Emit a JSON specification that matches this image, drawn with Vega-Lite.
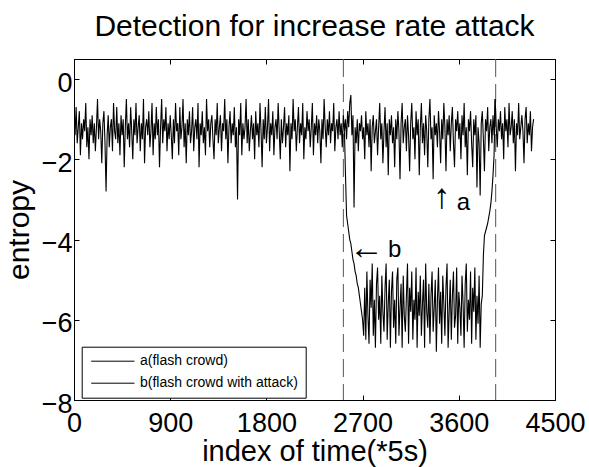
{
"$schema":"https://vega.github.io/schema/vega-lite/v6.json",
"width":481,"height":341,
"autosize":{"type":"none"},
"padding":{"left":74,"top":59,"right":34,"bottom":67},
"background":"white",
"title":{"text":"Detection for increase rate attack","fontSize":30,"font":"Liberation Sans","fontWeight":"normal","color":"black","anchor":"middle","offset":17},
"config":{"view":{"stroke":"black","strokeWidth":1},
"axis":{"labelFont":"Liberation Sans","titleFont":"Liberation Sans","labelColor":"black","titleColor":"black","domainColor":"black","tickColor":"black","grid":false,"titleFontWeight":"normal","labelFlush":false,"labelOverlap":false}},
"datasets":{
"main":[
{"t":0,"a":-0.6},{"t":10,"a":-1.4},{"t":20,"a":-0.7},{"t":30,"a":-1.6},{"t":40,"a":-1.2},{"t":50,"a":-0.8},{"t":60,"a":-1.9},{"t":70,"a":-1.1},{"t":80,"a":-1.5},{"t":90,"a":-1.0},
{"t":100,"a":-1.3},{"t":110,"a":-0.6},{"t":120,"a":-1.7},{"t":130,"a":-1.2},{"t":140,"a":-2.0},{"t":150,"a":-1.0},{"t":160,"a":-1.4},{"t":170,"a":-0.9},{"t":180,"a":-1.6},{"t":190,"a":-1.1},
{"t":200,"a":-1.8},{"t":210,"a":-1.2},{"t":220,"a":-0.5},{"t":230,"a":-1.5},{"t":240,"a":-1.0},{"t":250,"a":-1.3},{"t":260,"a":-2.1},{"t":270,"a":-1.1},{"t":280,"a":-0.8},{"t":290,"a":-1.6},
{"t":300,"a":-2.8},{"t":310,"a":-1.4},{"t":320,"a":-0.9},{"t":330,"a":-1.7},{"t":340,"a":-1.2},{"t":350,"a":-1.0},{"t":360,"a":-1.8},{"t":370,"a":-0.6},{"t":380,"a":-1.3},{"t":390,"a":-1.5},
{"t":400,"a":-0.7},{"t":410,"a":-1.6},{"t":420,"a":-1.1},{"t":430,"a":-1.9},{"t":440,"a":-0.9},{"t":450,"a":-1.4},{"t":460,"a":-1.0},{"t":470,"a":-2.2},{"t":480,"a":-1.2},{"t":490,"a":-0.5},
{"t":500,"a":-1.5},{"t":510,"a":-1.1},{"t":520,"a":-1.7},{"t":530,"a":-0.7},{"t":540,"a":-1.3},{"t":550,"a":-2.0},{"t":560,"a":-1.0},{"t":570,"a":-1.4},{"t":580,"a":-0.6},{"t":590,"a":-1.6},
{"t":600,"a":-1.2},{"t":610,"a":-0.9},{"t":620,"a":-1.8},{"t":630,"a":-1.1},{"t":640,"a":-1.5},{"t":650,"a":-0.5},{"t":660,"a":-2.1},{"t":670,"a":-1.2},{"t":680,"a":-1.0},{"t":690,"a":-1.4},
{"t":700,"a":-0.8},{"t":710,"a":-1.7},{"t":720,"a":-1.3},{"t":730,"a":-0.6},{"t":740,"a":-1.9},{"t":750,"a":-1.1},{"t":760,"a":-1.5},{"t":770,"a":-0.7},{"t":780,"a":-1.4},{"t":790,"a":-1.0},
{"t":800,"a":-2.2},{"t":810,"a":-1.2},{"t":820,"a":-0.5},{"t":830,"a":-1.6},{"t":840,"a":-1.0},{"t":850,"a":-1.3},{"t":860,"a":-0.7},{"t":870,"a":-1.8},{"t":880,"a":-1.1},{"t":890,"a":-1.5},
{"t":900,"a":-0.9},{"t":910,"a":-1.4},{"t":920,"a":-2.0},{"t":930,"a":-1.0},{"t":940,"a":-1.6},{"t":950,"a":-0.6},{"t":960,"a":-1.3},{"t":970,"a":-1.1},{"t":980,"a":-1.9},{"t":990,"a":-0.7},
{"t":1000,"a":-1.5},{"t":1010,"a":-1.2},{"t":1020,"a":-0.5},{"t":1030,"a":-1.7},{"t":1040,"a":-1.1},{"t":1050,"a":-2.1},{"t":1060,"a":-1.0},{"t":1070,"a":-1.4},{"t":1080,"a":-0.8},{"t":1090,"a":-1.6},
{"t":1100,"a":-1.3},{"t":1110,"a":-0.7},{"t":1120,"a":-1.8},{"t":1130,"a":-1.2},{"t":1140,"a":-1.0},{"t":1150,"a":-1.5},{"t":1160,"a":-0.6},{"t":1170,"a":-2.2},{"t":1180,"a":-1.1},{"t":1190,"a":-1.4},
{"t":1200,"a":-0.8},{"t":1210,"a":-1.6},{"t":1220,"a":-1.2},{"t":1230,"a":-1.9},{"t":1240,"a":-0.5},{"t":1250,"a":-1.3},{"t":1260,"a":-1.0},{"t":1270,"a":-1.7},{"t":1280,"a":-1.1},{"t":1290,"a":-0.9},
{"t":1300,"a":-1.5},{"t":1310,"a":-2.0},{"t":1320,"a":-1.0},{"t":1330,"a":-1.4},{"t":1340,"a":-0.6},{"t":1350,"a":-1.6},{"t":1360,"a":-1.2},{"t":1370,"a":-0.9},{"t":1380,"a":-1.8},{"t":1390,"a":-1.1},
{"t":1400,"a":-1.3},{"t":1410,"a":-0.5},{"t":1420,"a":-1.5},{"t":1430,"a":-1.0},{"t":1440,"a":-2.1},{"t":1450,"a":-1.2},{"t":1460,"a":-0.8},{"t":1470,"a":-1.6},{"t":1480,"a":-1.1},{"t":1490,"a":-1.4},
{"t":1500,"a":-0.7},{"t":1510,"a":-1.7},{"t":1520,"a":-1.2},{"t":1530,"a":-3.0},{"t":1540,"a":-1.0},{"t":1550,"a":-1.4},{"t":1560,"a":-0.6},{"t":1570,"a":-1.9},{"t":1580,"a":-1.1},{"t":1590,"a":-1.5},
{"t":1600,"a":-1.2},{"t":1610,"a":-0.5},{"t":1620,"a":-1.6},{"t":1630,"a":-1.0},{"t":1640,"a":-1.8},{"t":1650,"a":-1.3},{"t":1660,"a":-0.9},{"t":1670,"a":-1.5},{"t":1680,"a":-1.1},{"t":1690,"a":-2.0},
{"t":1700,"a":-0.8},{"t":1710,"a":-1.4},{"t":1720,"a":-1.1},{"t":1730,"a":-1.7},{"t":1740,"a":-0.6},{"t":1750,"a":-1.3},{"t":1760,"a":-2.2},{"t":1770,"a":-1.0},{"t":1780,"a":-1.5},{"t":1790,"a":-0.7},
{"t":1800,"a":-1.6},{"t":1810,"a":-1.2},{"t":1820,"a":-0.5},{"t":1830,"a":-1.8},{"t":1840,"a":-1.1},{"t":1850,"a":-1.4},{"t":1860,"a":-0.8},{"t":1870,"a":-1.9},{"t":1880,"a":-1.2},{"t":1890,"a":-1.0},
{"t":1900,"a":-1.5},{"t":1910,"a":-0.6},{"t":1920,"a":-1.3},{"t":1930,"a":-2.0},{"t":1940,"a":-1.0},{"t":1950,"a":-1.6},{"t":1960,"a":-1.2},{"t":1970,"a":-0.7},{"t":1980,"a":-1.7},{"t":1990,"a":-1.1},
{"t":2000,"a":-1.4},{"t":2010,"a":-0.9},{"t":2020,"a":-2.3},{"t":2030,"a":-1.1},{"t":2040,"a":-1.5},{"t":2050,"a":-0.5},{"t":2060,"a":-1.3},{"t":2070,"a":-1.0},{"t":2080,"a":-1.8},{"t":2090,"a":-1.2},
{"t":2100,"a":-0.7},{"t":2110,"a":-1.6},{"t":2120,"a":-1.1},{"t":2130,"a":-1.4},{"t":2140,"a":-0.6},{"t":2150,"a":-2.0},{"t":2160,"a":-1.2},{"t":2170,"a":-1.5},{"t":2180,"a":-0.8},{"t":2190,"a":-1.3},
{"t":2200,"a":-1.0},{"t":2210,"a":-1.7},{"t":2220,"a":-1.2},{"t":2230,"a":-0.6},{"t":2240,"a":-1.9},{"t":2250,"a":-1.1},{"t":2260,"a":-1.4},{"t":2270,"a":-0.9},{"t":2280,"a":-1.6},{"t":2290,"a":-1.0},
{"t":2300,"a":-1.3},{"t":2310,"a":-2.1},{"t":2320,"a":-1.0},{"t":2330,"a":-1.5},{"t":2340,"a":-0.5},{"t":2350,"a":-1.2},{"t":2360,"a":-1.7},{"t":2370,"a":-1.0},{"t":2380,"a":-1.4},{"t":2390,"a":-0.8},
{"t":2400,"a":-1.6},{"t":2410,"a":-1.1},{"t":2420,"a":-1.3},{"t":2430,"a":-0.6},{"t":2440,"a":-1.8},{"t":2450,"a":-1.2},{"t":2460,"a":-1.0},{"t":2470,"a":-1.5},{"t":2480,"a":-0.8},{"t":2490,"a":-1.4},
{"t":2500,"a":-1.1},{"t":2510,"a":-1.7},{"t":2520,"a":-0.9},{"t":2530,"a":-1.3,"b":-1.3},{"t":2540,"a":-1.0,"b":-2.4},{"t":2550,"a":-1.5,"b":-3.4},{"t":2560,"a":-0.8,"b":-3.6},{"t":2570,"a":-1.2,"b":-3.8},{"t":2580,"a":-0.6,"b":-4.0},{"t":2590,"a":-0.4,"b":-4.1},
{"t":2600,"a":-1.4,"b":-4.3},{"t":2610,"a":-0.9,"b":-4.5},{"t":2620,"a":-3.2,"b":-4.6},{"t":2630,"a":-1.2,"b":-4.8},{"t":2640,"a":-1.6,"b":-4.9},{"t":2650,"a":-1.0,"b":-5.1},{"t":2660,"a":-1.8,"b":-5.2},{"t":2670,"a":-1.1,"b":-5.4},{"t":2680,"a":-1.3,"b":-5.6},{"t":2690,"a":-0.9,"b":-5.8},
{"t":2700,"a":-1.5,"b":-6.0},{"t":2710,"a":-1.2,"b":-6.4},{"t":2720,"a":-2.0,"b":-5.2},{"t":2730,"a":-0.8,"b":-6.5},{"t":2740,"a":-1.4,"b":-4.8},{"t":2750,"a":-1.1,"b":-5.9},{"t":2760,"a":-1.7,"b":-6.6},{"t":2770,"a":-1.0,"b":-5.0},{"t":2780,"a":-2.3,"b":-5.7},{"t":2790,"a":-1.2,"b":-4.6},
{"t":2800,"a":-0.9,"b":-6.4},{"t":2810,"a":-1.6,"b":-5.5},{"t":2820,"a":-1.3,"b":-6.7},{"t":2830,"a":-1.0,"b":-5.1},{"t":2840,"a":-1.9,"b":-4.7},{"t":2850,"a":-1.2,"b":-6.0},{"t":2860,"a":-0.6,"b":-5.4},{"t":2870,"a":-1.5,"b":-6.6},{"t":2880,"a":-1.1,"b":-4.9},{"t":2890,"a":-2.1,"b":-5.8},
{"t":2900,"a":-1.3,"b":-6.3},{"t":2910,"a":-0.7,"b":-5.2},{"t":2920,"a":-1.7,"b":-4.6},{"t":2930,"a":-1.1,"b":-6.5},{"t":2940,"a":-2.4,"b":-5.6},{"t":2950,"a":-1.0,"b":-5.0},{"t":2960,"a":-1.4,"b":-6.7},{"t":2970,"a":-0.9,"b":-5.3},{"t":2980,"a":-1.6,"b":-4.8},{"t":2990,"a":-1.2,"b":-6.2},
{"t":3000,"a":-2.2,"b":-5.5},{"t":3010,"a":-1.0,"b":-6.6},{"t":3020,"a":-1.5,"b":-5.0},{"t":3030,"a":-0.8,"b":-4.7},{"t":3040,"a":-1.3,"b":-6.4},{"t":3050,"a":-2.5,"b":-5.7},{"t":3060,"a":-1.1,"b":-5.1},{"t":3070,"a":-0.6,"b":-6.7},{"t":3080,"a":-1.6,"b":-4.9},{"t":3090,"a":-1.2,"b":-5.9},
{"t":3100,"a":-1.0,"b":-6.3},{"t":3110,"a":-1.8,"b":-5.4},{"t":3120,"a":-0.9,"b":-4.6},{"t":3130,"a":-1.4,"b":-6.6},{"t":3140,"a":-2.3,"b":-5.2},{"t":3150,"a":-1.1,"b":-5.8},{"t":3160,"a":-0.6,"b":-4.8},{"t":3170,"a":-1.5,"b":-6.5},{"t":3180,"a":-1.2,"b":-5.5},{"t":3190,"a":-2.0,"b":-6.0},
{"t":3200,"a":-0.8,"b":-4.7},{"t":3210,"a":-1.4,"b":-6.7},{"t":3220,"a":-1.0,"b":-5.3},{"t":3230,"a":-2.4,"b":-5.9},{"t":3240,"a":-1.2,"b":-4.9},{"t":3250,"a":-0.6,"b":-6.4},{"t":3260,"a":-1.6,"b":-5.6},{"t":3270,"a":-1.1,"b":-5.0},{"t":3280,"a":-1.9,"b":-6.7},{"t":3290,"a":-0.9,"b":-4.6},
{"t":3300,"a":-1.3,"b":-5.8},{"t":3310,"a":-2.2,"b":-6.2},{"t":3320,"a":-1.0,"b":-5.1},{"t":3330,"a":-0.5,"b":-6.6},{"t":3340,"a":-1.5,"b":-5.4},{"t":3350,"a":-1.2,"b":-4.8},{"t":3360,"a":-2.5,"b":-6.3},{"t":3370,"a":-0.9,"b":-5.7},{"t":3380,"a":-1.4,"b":-5.0},{"t":3390,"a":-1.1,"b":-6.8},
{"t":3400,"a":-1.7,"b":-5.5},{"t":3410,"a":-0.8,"b":-4.7},{"t":3420,"a":-1.3,"b":-6.1},{"t":3430,"a":-2.1,"b":-5.3},{"t":3440,"a":-1.0,"b":-6.6},{"t":3450,"a":-1.5,"b":-4.9},{"t":3460,"a":-0.6,"b":-5.6},{"t":3470,"a":-1.2,"b":-6.4},{"t":3480,"a":-2.3,"b":-5.2},{"t":3490,"a":-1.0,"b":-4.6},
{"t":3500,"a":-1.4,"b":-6.7},{"t":3510,"a":-0.9,"b":-5.8},{"t":3520,"a":-1.8,"b":-5.0},{"t":3530,"a":-1.1,"b":-6.5},{"t":3540,"a":-0.7,"b":-5.4},{"t":3550,"a":-1.6,"b":-4.8},{"t":3560,"a":-2.2,"b":-6.2},{"t":3570,"a":-1.0,"b":-5.9},{"t":3580,"a":-1.3,"b":-4.7},{"t":3590,"a":-0.8,"b":-6.6},
{"t":3600,"a":-1.5,"b":-5.3},{"t":3610,"a":-1.1,"b":-5.7},{"t":3620,"a":-2.0,"b":-6.4},{"t":3630,"a":-0.9,"b":-4.9},{"t":3640,"a":-1.4,"b":-5.6},{"t":3650,"a":-0.6,"b":-6.7},{"t":3660,"a":-1.7,"b":-5.1},{"t":3670,"a":-1.2,"b":-4.6},{"t":3680,"a":-2.4,"b":-6.3},{"t":3690,"a":-1.0,"b":-5.5},
{"t":3700,"a":-1.3,"b":-6.0},{"t":3710,"a":-0.8,"b":-4.8},{"t":3720,"a":-1.6,"b":-6.6},{"t":3730,"a":-2.2,"b":-5.2},{"t":3740,"a":-1.0,"b":-5.8},{"t":3750,"a":-1.4,"b":-4.7},{"t":3760,"a":-0.9,"b":-6.5},{"t":3770,"a":-2.7,"b":-5.4},{"t":3780,"a":-1.2,"b":-6.1},{"t":3790,"a":-1.6,"b":-4.9},
{"t":3800,"a":-2.9,"b":-6.7},{"t":3810,"a":-1.1,"b":-5.6},{"t":3820,"a":-0.8,"b":-5.4},{"t":3830,"a":-1.5,"b":-4.4},{"t":3840,"a":-2.3,"b":-3.9},{"t":3850,"a":-1.0,"b":-3.8},{"t":3860,"a":-1.3,"b":-3.7},{"t":3870,"a":-0.7,"b":-3.6},{"t":3880,"a":-1.8,"b":-3.45},{"t":3890,"a":-1.2,"b":-3.3},
{"t":3900,"a":-1.0,"b":-3.1},{"t":3910,"a":-1.6,"b":-2.8},{"t":3920,"a":-0.9,"b":-2.4},{"t":3930,"a":-1.4,"b":-1.9},{"t":3940,"a":-0.5,"b":-0.5},{"t":3950,"a":-1.2},{"t":3960,"a":-1.7},{"t":3970,"a":-1.0},{"t":3980,"a":-1.3},{"t":3990,"a":-0.8},
{"t":4000,"a":-1.5},{"t":4010,"a":-1.1},{"t":4020,"a":-2.0},{"t":4030,"a":-0.7},{"t":4040,"a":-1.3},{"t":4050,"a":-1.0},{"t":4060,"a":-1.7},{"t":4070,"a":-0.6},{"t":4080,"a":-1.4},{"t":4090,"a":-1.2},
{"t":4100,"a":-0.8},{"t":4110,"a":-1.6},{"t":4120,"a":-1.0},{"t":4130,"a":-2.3},{"t":4140,"a":-1.1},{"t":4150,"a":-1.4},{"t":4160,"a":-0.6},{"t":4170,"a":-1.5},{"t":4180,"a":-1.2},{"t":4190,"a":-0.9},
{"t":4200,"a":-1.3},{"t":4210,"a":-2.1},{"t":4220,"a":-1.0},{"t":4230,"a":-0.7},{"t":4240,"a":-1.6},{"t":4250,"a":-1.1},{"t":4260,"a":-1.4},{"t":4270,"a":-0.8},{"t":4280,"a":-1.8},{"t":4290,"a":-1.2},
{"t":4300,"a":-1.0}
],
"vlines":[{"t":2520},{"t":3945}],
"arrows":[{"t":3440,"y":-2.95,"label":"↑"},{"t":2736,"y":-4.2,"label":"←"}],
"letters":[{"t":3580,"y":-3.27,"label":"a"},{"t":2938,"y":-4.43,"label":"b"}]
},
"layer":[
{"data":{"name":"vlines"},
 "mark":{"type":"rule","color":"#555555","strokeWidth":1,"strokeDash":[18,7]},
 "encoding":{"x":{"field":"t","type":"quantitative","scale":{"domain":[0,4500],"nice":false,"zero":false},"axis":null}}},
{"data":{"name":"main"},
 "mark":{"type":"line","strokeWidth":1.1,"clip":true},
 "encoding":{
  "x":{"field":"t","type":"quantitative","scale":{"domain":[0,4500],"nice":false,"zero":false},
   "axis":{"orient":"bottom","values":[0,900,1800,2700,3600,4500],"format":"d","tickSize":-5,"labelPadding":15,"labelFontSize":27,"title":"index of time(*5s)","titleFontSize":29,"titlePadding":1}},
  "y":{"field":"a","type":"quantitative","scale":{"domain":[-8,0.5],"nice":false,"zero":false},
   "axis":{"orient":"left","values":[-8,-6,-4,-2,0],"format":"d","tickSize":-5,"labelPadding":7,"labelFontSize":27,"labelOffset":4,"title":"entropy","titleFontSize":30,"titlePadding":7}},
  "color":{"datum":"a(flash crowd)","type":"nominal",
   "scale":{"domain":["a(flash crowd)","b(flash crowd with attack)"],"range":["black","black"]},
   "legend":{"orient":"none","legendX":7.7,"legendY":287.7,"title":null,"symbolType":"M-0.714,0H5.47","symbolSize":196,"symbolStrokeWidth":1,"symbolStrokeColor":"black","symbolFillColor":"transparent","labelFontSize":14,"labelFont":"Liberation Sans","labelColor":"black","labelOffset":36.3,"padding":7,"rowPadding":7,"strokeColor":"black","fillColor":"white","cornerRadius":0}}}},
{"data":{"name":"main"},
 "mark":{"type":"line","strokeWidth":1.1,"clip":true},
 "encoding":{
  "x":{"field":"t","type":"quantitative","axis":null},
  "y":{"field":"b","type":"quantitative","axis":null},
  "color":{"datum":"b(flash crowd with attack)","type":"nominal"}}},
{"data":{"name":"arrows"},
 "mark":{"type":"text","align":"center","baseline":"middle","fontSize":35,"font":"Liberation Sans","color":"black"},
 "encoding":{
  "x":{"field":"t","type":"quantitative","axis":{"orient":"top","values":[0,900,1800,2700,3600,4500],"tickSize":-5,"labels":false,"title":null}},
  "y":{"field":"y","type":"quantitative","axis":{"orient":"right","values":[-8,-6,-4,-2,0],"tickSize":-5,"labels":false,"title":null}},
  "text":{"field":"label"}}},
{"data":{"name":"letters"},
 "mark":{"type":"text","align":"left","baseline":"alphabetic","fontSize":24,"font":"Liberation Sans","color":"black"},
 "encoding":{
  "x":{"field":"t","type":"quantitative","axis":null},
  "y":{"field":"y","type":"quantitative","axis":null},
  "text":{"field":"label"}}}
],
"resolve":{"axis":{"x":"independent","y":"independent"}}
}
